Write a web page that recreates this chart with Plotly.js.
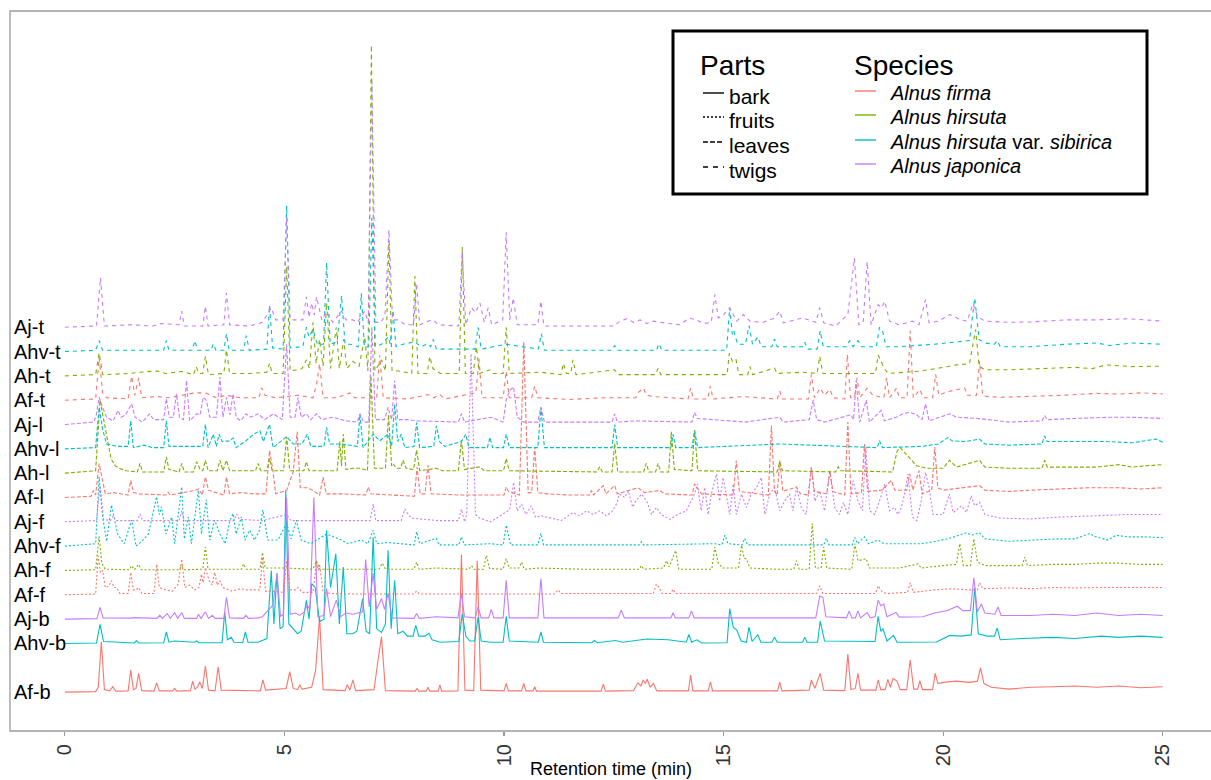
<!DOCTYPE html>
<html><head><meta charset="utf-8">
<script src="https://cdn.plot.ly/plotly-3.0.1.min.js"></script>
<style>html,body{margin:0;padding:0;background:#fff}</style>
</head><body><div id="chart" style="width:1211px;height:780px"></div>
<script>
// ---- sample order (bottom to top), stacking level of each chromatogram ----
const sampleLabels  = ['Af-b','Ahv-b','Aj-b','Af-f','Ah-f','Ahv-f','Aj-f','Af-l','Ah-l','Ahv-l','Aj-l','Af-t','Ah-t','Ahv-t','Aj-t'];
const sampleLevels  = [0,2,3,4,5,6,7,8,9,10,11,12,13,14,15];
const sampleSpecies = ['Alnus firma','Alnus hirsuta var. sibirica','Alnus japonica',
                       'Alnus firma','Alnus hirsuta','Alnus hirsuta var. sibirica','Alnus japonica',
                       'Alnus firma','Alnus hirsuta','Alnus hirsuta var. sibirica','Alnus japonica',
                       'Alnus firma','Alnus hirsuta','Alnus hirsuta var. sibirica','Alnus japonica'];
const sampleParts   = ['bark','bark','bark','fruits','fruits','fruits','fruits','leaves','leaves','leaves','leaves','twigs','twigs','twigs','twigs'];
const speciesNames  = ['Alnus firma','Alnus hirsuta','Alnus hirsuta var. sibirica','Alnus japonica'];
const partNames     = ['bark','fruits','leaves','twigs'];
const tickValues    = [0,5,10,15,20,25];

// ---- chromatograms: [retention time (min), relative intensity] ----
const AfB = [[0,0],[0.70,0.02],[0.76,0.2],[0.83,2.07],[0.90,0.1],[1.02,0.05],[1.09,0.22],[1.16,0.04],[1.44,0.05],[1.50,0.9],[1.56,0.1],[1.62,0.15],[1.68,0.77],[1.75,0.06],[2.03,0.04],[2.09,0.38],[2.15,0.05],[2.45,0.05],[2.50,0.15],[2.55,0.04],[2.86,0.06],[2.91,0.45],[2.96,0.12],[3.02,0.2],[3.07,0.42],[3.13,0.15],[3.20,1.07],[3.27,0.08],[3.42,0.05],[3.49,1.04],[3.56,0.08],[4.45,0.05],[4.51,0.5],[4.57,0.08],[5.04,0.15],[5.12,0.84],[5.20,0.15],[5.30,0.1],[5.35,0.3],[5.40,0.12],[5.62,0.2],[5.71,0.9],[5.80,3.1],[5.88,0.1],[6.38,0.06],[6.43,0.3],[6.49,0.08],[6.56,0.5],[6.62,0.06],[7.04,0.1],[7.13,1.3],[7.21,2.28],[7.30,0.06],[7.98,0.04],[8.02,0.15],[8.06,0.04],[8.23,0.04],[8.27,0.2],[8.31,0.04],[8.50,0.04],[8.54,0.3],[8.58,0.04],[8.95,0.05],[9.03,5.65],[9.11,0.08],[9.31,0.06],[9.39,5.4],[9.47,0.08],[10.00,0.05],[10.05,0.36],[10.10,0.05],[10.40,0.05],[10.45,0.36],[10.50,0.05],[10.66,0.05],[10.70,0.22],[10.74,0.04],[12.21,0.04],[12.26,0.33],[12.31,0.04],[12.95,0.06],[13.05,0.38],[13.12,0.25],[13.17,0.5],[13.22,0.35],[13.26,0.53],[13.33,0.2],[13.40,0.36],[13.48,0.05],[14.20,0.05],[14.25,0.7],[14.30,0.05],[14.65,0.05],[14.70,0.42],[14.75,0.05],[16.23,0.05],[16.28,0.41],[16.33,0.05],[16.95,0.08],[17.00,0.5],[17.08,0.15],[17.20,0.77],[17.28,0.08],[17.76,0.06],[17.83,1.56],[17.90,0.1],[18.00,0.15],[18.06,0.77],[18.12,0.08],[18.47,0.08],[18.52,0.5],[18.58,0.1],[18.68,0.1],[18.74,0.52],[18.80,0.2],[18.86,0.56],[18.95,0.45],[19.02,0.1],[19.17,0.1],[19.25,1.32],[19.33,0.12],[19.42,0.12],[19.47,0.47],[19.53,0.1],[19.76,0.1],[19.82,0.77],[19.88,0.35],[20.0,0.4],[20.3,0.45],[20.6,0.4],[20.78,0.45],[20.85,1.0],[20.93,0.35],[21.1,0.2],[21.5,0.12],[22.0,0.2],[22.5,0.22],[23.0,0.25],[23.5,0.2],[24.0,0.25],[24.5,0.18],[25.0,0.22]];
const AhvB = [[0,0],[0.72,0.02],[0.80,0.78],[0.88,0.08],[1.58,0.02],[1.63,0.12],[1.68,0.02],[2.25,0.03],[2.31,0.47],[2.37,0.05],[2.50,0.1],[2.95,0.05],[3.0,0.1],[3.05,0.03],[3.58,0.03],[3.64,1.3],[3.70,0.15],[3.79,0.25],[3.85,0.05],[4.05,0.04],[4.11,0.47],[4.17,0.05],[4.40,0.05],[4.60,0.2],[4.70,3.0],[4.76,0.8],[4.83,2.87],[4.90,0.6],[4.97,0.7],[5.03,6.3],[5.10,0.8],[5.20,0.6],[5.30,0.4],[5.38,0.5],[5.50,1.77],[5.56,1.0],[5.62,2.46],[5.70,2.3],[5.80,0.9],[5.90,1.0],[5.96,4.65],[6.05,2.3],[6.17,3.69],[6.25,0.8],[6.34,3.14],[6.42,0.4],[6.55,0.4],[6.65,0.5],[6.78,1.84],[6.86,0.5],[6.94,0.4],[7.02,4.36],[7.10,0.6],[7.21,0.45],[7.30,0.8],[7.36,3.83],[7.43,0.6],[7.51,2.6],[7.58,0.4],[7.70,0.5],[7.80,0.3],[7.93,0.3],[7.99,0.74],[8.06,0.3],[8.20,0.3],[8.29,0.42],[8.36,0.15],[8.55,0.05],[8.97,0.08],[9.05,1.22],[9.13,0.3],[9.22,0.1],[9.33,0.1],[9.41,1.08],[9.48,0.1],[9.70,0.05],[9.98,0.05],[10.05,1.11],[10.12,0.1],[10.78,0.05],[10.84,0.47],[10.90,0.05],[12.0,0.03],[12.06,0.12],[12.12,0.03],[12.54,0.12],[12.70,0.05],[13.13,0.15],[13.26,0.18],[13.74,0.15],[14.15,0.05],[14.21,0.37],[14.27,0.05],[14.40,0.15],[14.50,0.02],[15.08,0.03],[15.14,1.43],[15.22,0.67],[15.30,0.55],[15.40,0.1],[15.52,0.05],[15.58,0.67],[15.65,0.08],[15.78,0.36],[15.85,0.05],[16.10,0.05],[16.16,0.26],[16.22,0.05],[16.80,0.05],[16.85,0.26],[16.90,0.05],[17.14,0.05],[17.20,0.92],[17.30,0.1],[18.45,0.08],[18.52,1.11],[18.58,0.5],[18.63,0.6],[18.72,0.1],[18.87,0.33],[18.95,0.05],[19.85,0.06],[20.15,0.33],[20.4,0.3],[20.64,0.35],[20.72,2.3],[20.80,0.4],[21.0,0.3],[21.17,0.3],[21.23,0.64],[21.30,0.15],[21.8,0.2],[22.5,0.25],[23.0,0.2],[23.6,0.3],[24.0,0.25],[24.5,0.3],[25.0,0.25]];
const AjB = [[0,0],[0.73,0.02],[0.80,0.48],[0.87,0.05],[1.52,0.04],[1.56,0.06],[2.10,0.03],[2.16,0.16],[2.22,0.03],[2.33,0.23],[2.40,0.03],[2.50,0.26],[2.57,0.03],[2.66,0.27],[2.72,0.03],[3.0,0.03],[3.04,0.2],[3.10,0.03],[3.20,0.3],[3.27,0.03],[3.36,0.16],[3.42,0.03],[3.62,0.03],[3.68,0.9],[3.75,0.05],[4.07,0.03],[4.12,0.16],[4.18,0.03],[4.40,0.05],[4.50,0.1],[4.63,0.37],[4.74,0.58],[4.83,1.88],[4.91,0.12],[4.98,0.2],[5.05,5.0],[5.13,0.2],[5.25,0.25],[5.35,0.15],[5.45,0.3],[5.52,0.58],[5.58,0.4],[5.67,5.0],[5.76,0.1],[5.90,0.15],[5.96,1.26],[6.05,0.1],[6.18,0.78],[6.28,0.1],[6.40,0.25],[6.56,0.2],[6.78,0.3],[6.85,2.45],[6.93,0.5],[7.02,1.88],[7.10,0.4],[7.21,0.85],[7.28,0.4],[7.36,1.06],[7.45,0.05],[7.95,0.03],[8.01,0.23],[8.07,0.03],[8.46,0.1],[8.95,0.05],[9.03,1.06],[9.10,0.1],[9.34,0.05],[9.41,0.5],[9.48,0.05],[9.65,0.05],[9.71,0.4],[9.77,0.05],[9.98,0.05],[10.05,1.6],[10.12,0.05],[10.77,0.05],[10.84,1.67],[10.91,0.05],[12.60,0.05],[12.67,0.37],[12.74,0.05],[13.80,0.05],[13.85,0.26],[13.90,0.05],[14.21,0.05],[14.27,0.34],[14.33,0.05],[17.10,0.05],[17.19,0.95],[17.26,0.9],[17.33,0.1],[17.80,0.05],[17.86,0.34],[17.92,0.05],[18.00,0.05],[18.06,0.34],[18.12,0.05],[18.27,0.27],[18.34,0.05],[18.45,0.1],[18.52,0.78],[18.58,0.55],[18.65,0.62],[18.72,0.1],[18.93,0.27],[19.0,0.08],[19.54,0.1],[19.8,0.25],[20.1,0.35],[20.32,0.53],[20.45,0.35],[20.62,0.35],[20.70,1.7],[20.78,0.3],[20.87,0.62],[20.95,0.25],[21.18,0.2],[21.25,0.5],[21.32,0.15],[22.0,0.15],[22.5,0.2],[23.0,0.15],[23.5,0.25],[24.0,0.15],[24.5,0.2],[25.0,0.15]];
const AfF = [[0,0],[0.70,0.03],[0.76,1.6],[0.81,0.9],[0.86,1.0],[0.92,0.3],[1.00,0.35],[1.06,0.58],[1.12,0.3],[1.18,0.3],[1.25,0.05],[1.44,0.05],[1.50,0.92],[1.56,0.2],[1.62,0.2],[1.68,0.3],[1.75,0.05],[2.03,0.05],[2.09,1.26],[2.15,0.3],[2.30,0.2],[2.45,0.15],[2.58,0.44],[2.66,1.47],[2.73,0.3],[2.85,0.4],[2.95,0.2],[3.05,0.3],[3.11,0.85],[3.15,0.5],[3.20,1.12],[3.28,0.6],[3.35,0.4],[3.41,0.92],[3.47,0.4],[3.53,0.58],[3.60,0.3],[3.80,0.15],[4.0,0.25],[4.15,0.2],[4.30,0.2],[4.44,0.2],[4.50,1.54],[4.57,0.15],[4.70,0.15],[4.98,0.1],[5.05,1.4],[5.12,0.2],[5.25,0.2],[5.31,0.3],[5.40,0.1],[5.65,0.1],[5.73,1.4],[5.77,1.0],[5.80,1.26],[5.88,0.1],[6.1,0.05],[6.6,0.03],[7.5,0.03],[7.95,0.03],[8.01,0.16],[8.07,0.03],[11.15,0.03],[11.23,0.2],[11.30,0.05],[13.40,0.05],[13.47,0.44],[13.53,0.3],[13.60,0.05],[13.80,0.05],[13.85,0.23],[13.90,0.05],[17.12,0.05],[17.19,0.37],[17.26,0.05],[18.46,0.05],[18.52,0.37],[18.60,0.15],[18.70,0.05],[19.19,0.1],[19.25,0.5],[19.32,0.1],[19.8,0.2],[20.2,0.25],[20.6,0.2],[20.78,0.2],[20.83,0.5],[20.90,0.25],[21.5,0.28],[22.0,0.25],[22.5,0.3],[23.0,0.28],[23.5,0.3],[24.0,0.3],[24.5,0.28],[25.0,0.3]];
const AhF = [[0,0],[0.70,0.03],[0.78,1.4],[0.84,0.3],[0.92,0.05],[1.47,0.03],[1.52,0.2],[1.58,0.03],[1.68,0.25],[1.74,0.03],[2.60,0.03],[2.66,0.2],[2.72,0.03],[3.14,0.05],[3.20,0.96],[3.26,0.05],[4.02,0.05],[4.07,0.27],[4.13,0.05],[4.44,0.05],[4.50,0.74],[4.56,0.1],[5.05,0.1],[5.65,0.05],[5.73,0.4],[5.80,0.05],[7.15,0.05],[7.23,0.3],[7.30,0.05],[7.95,0.05],[8.01,0.34],[8.07,0.05],[8.45,0.1],[9.20,0.05],[9.26,0.2],[9.32,0.05],[9.53,0.05],[9.60,0.62],[9.67,0.08],[9.98,0.05],[10.05,0.48],[10.12,0.1],[10.34,0.1],[10.40,0.34],[10.46,0.05],[10.81,0.1],[11.8,0.05],[12.5,0.05],[13.08,0.05],[13.13,0.2],[13.18,0.05],[13.63,0.1],[13.70,0.4],[13.76,0.15],[13.91,0.82],[13.98,0.05],[14.73,0.05],[14.80,0.96],[14.88,0.3],[14.98,0.1],[15.34,0.1],[15.41,1.03],[15.47,0.5],[15.52,0.48],[15.60,0.1],[16.2,0.05],[16.60,0.05],[16.66,0.4],[16.72,0.05],[16.95,0.05],[17.02,1.93],[17.09,0.1],[17.22,0.1],[17.28,0.96],[17.35,0.1],[17.92,0.05],[17.99,1.1],[18.06,0.4],[18.25,0.48],[18.32,0.1],[19.0,0.1],[19.43,0.27],[19.50,0.1],[20.0,0.2],[20.30,0.25],[20.38,1.1],[20.46,0.2],[20.62,0.2],[20.70,1.3],[20.78,0.35],[20.95,0.2],[21.5,0.2],[21.80,0.2],[21.86,0.55],[21.92,0.2],[22.5,0.25],[23.0,0.25],[23.5,0.3],[24.0,0.3],[24.5,0.25],[25.0,0.25]];
const AhvF = [[0,0],[0.70,0.1],[0.78,2.85],[0.86,1.2],[0.95,0.2],[1.06,1.69],[1.12,1.2],[1.20,0.5],[1.35,0.1],[1.52,1.07],[1.62,0.0],[1.75,0.2],[1.90,0.5],[2.09,2.03],[2.15,1.3],[2.20,1.62],[2.30,0.5],[2.43,1.2],[2.50,0.1],[2.56,1.07],[2.66,2.44],[2.72,0.3],[2.81,1.2],[2.88,0.1],[2.96,1.3],[3.04,2.3],[3.11,0.5],[3.22,1.9],[3.30,0.25],[3.41,1.07],[3.53,0.5],[3.65,0.1],[3.76,1.07],[3.83,1.34],[3.90,0.5],[4.02,1.2],[4.10,0.25],[4.21,0.66],[4.32,0.25],[4.42,0.6],[4.51,1.48],[4.62,0.25],[4.85,0.25],[5.05,0.93],[5.15,0.3],[5.27,1.07],[5.38,0.25],[5.60,0.1],[5.96,0.5],[6.30,0.25],[6.45,0.1],[6.75,0.25],[6.90,0.1],[7.02,0.66],[7.10,0.1],[7.36,0.15],[7.95,0.05],[8.01,0.59],[8.08,0.1],[8.46,0.32],[8.52,0.05],[8.97,0.05],[9.03,0.38],[9.10,0.05],[9.68,0.1],[9.98,0.05],[10.05,0.86],[10.10,0.4],[10.15,0.05],[10.77,0.05],[10.84,0.52],[10.90,0.05],[12.0,0.05],[13.08,0.05],[13.13,0.18],[13.18,0.05],[14.80,0.1],[14.96,0.05],[15.03,0.45],[15.10,0.1],[15.42,0.05],[15.48,0.32],[15.55,0.05],[17.28,0.05],[17.34,0.32],[17.40,0.05],[17.93,0.05],[17.99,0.36],[18.05,0.1],[18.21,0.38],[18.30,0.1],[18.52,0.25],[18.65,0.1],[19.5,0.1],[19.85,0.2],[20.2,0.35],[20.53,0.55],[20.65,0.45],[20.83,0.55],[20.95,0.3],[21.5,0.2],[22.0,0.25],[22.6,0.3],[23.0,0.3],[23.34,0.52],[23.45,0.4],[23.75,0.25],[23.94,0.45],[24.2,0.38],[24.6,0.38],[25.0,0.35]];
const AjF = [[0,0],[0.72,0.05],[0.80,1.5],[0.88,0.1],[1.04,0.05],[1.10,0.25],[1.16,0.05],[1.65,0.05],[1.71,0.32],[1.77,0.05],[2.60,0.05],[2.66,0.45],[2.72,0.05],[3.85,0.05],[3.91,0.32],[3.97,0.1],[4.5,0.05],[5.05,0.3],[5.15,0.05],[6.5,0.05],[6.95,0.05],[7.02,0.73],[7.08,0.05],[7.66,0.05],[7.74,0.52],[7.82,0.3],[7.90,0.15],[8.5,0.05],[8.96,0.05],[9.03,0.52],[9.10,0.0],[9.15,0.3],[9.25,6.9],[9.35,0.3],[9.45,0.15],[9.70,0.0],[10.05,0.38],[10.13,0.5],[10.22,1.62],[10.30,0.45],[10.40,0.73],[10.50,0.3],[10.62,0.66],[10.72,0.18],[10.85,0.25],[11.3,0.05],[11.57,0.38],[11.72,0.25],[11.88,0.45],[12.03,0.3],[12.18,0.45],[12.33,0.25],[12.45,0.4],[12.56,0.73],[12.63,1.14],[12.75,1.0],[12.83,1.28],[12.93,0.6],[13.0,0.85],[13.13,1.14],[13.25,0.85],[13.36,0.3],[13.47,0.59],[13.58,0.3],[13.78,0.1],[13.95,0.3],[14.15,0.45],[14.34,1.14],[14.40,1.55],[14.49,0.45],[14.57,1.41],[14.65,0.3],[14.72,1.14],[14.84,1.96],[14.91,0.85],[14.99,1.82],[15.06,1.14],[15.14,0.3],[15.22,1.55],[15.29,0.3],[15.41,1.14],[15.52,0.59],[15.63,1.14],[15.75,1.41],[15.86,1.82],[15.94,0.3],[16.05,1.14],[16.16,1.41],[16.28,0.45],[16.39,0.85],[16.50,1.14],[16.58,0.45],[16.66,1.41],[16.77,0.59],[16.88,0.3],[17.00,2.24],[17.08,0.85],[17.19,1.27],[17.30,0.45],[17.42,2.1],[17.53,0.59],[17.64,0.3],[17.73,0.79],[17.83,0.3],[17.95,1.69],[18.06,0.85],[18.16,0.45],[18.24,3.06],[18.33,0.45],[18.44,0.3],[18.55,0.85],[18.67,1.55],[18.78,0.45],[18.89,0.59],[18.97,0.3],[19.05,0.59],[19.12,1.14],[19.20,1.96],[19.30,0.2],[19.40,0.05],[19.50,0.85],[19.60,2.03],[19.68,1.41],[19.77,0.3],[20.0,0.3],[20.14,1.14],[20.23,0.38],[20.42,0.66],[20.53,0.38],[20.64,1.07],[20.72,0.66],[20.83,0.8],[20.95,0.3],[21.3,0.15],[22.0,0.12],[22.7,0.2],[23.5,0.25],[24.2,0.3],[25.0,0.3]];
const AfL = [[0,0],[0.60,0.05],[0.65,0.29],[0.70,0.1],[0.78,1.39],[0.84,0.9],[0.92,0.15],[1.10,0.2],[1.44,0.1],[1.50,0.7],[1.56,0.2],[1.70,0.15],[2.30,0.1],[2.35,0.22],[2.40,0.1],[2.96,0.29],[3.05,0.35],[3.13,0.1],[3.20,0.84],[3.27,0.3],[3.45,0.2],[3.62,0.1],[3.68,0.84],[3.75,0.15],[4.0,0.2],[4.3,0.15],[4.58,0.15],[4.66,1.93],[4.73,1.2],[4.80,0.15],[5.05,0.3],[5.20,1.06],[5.29,2.7],[5.36,0.4],[5.50,0.4],[5.65,0.3],[5.80,0.1],[5.88,0.84],[5.95,0.15],[6.3,0.15],[6.85,0.1],[6.91,0.43],[6.97,0.15],[7.96,0.05],[8.02,1.25],[8.09,0.15],[8.20,0.15],[8.27,1.32],[8.34,0.15],[9.0,0.1],[10.0,0.1],[10.05,0.43],[10.10,0.25],[10.35,0.1],[10.45,6.4],[10.55,0.2],[10.63,0.2],[10.70,2.07],[10.77,0.2],[11.0,0.15],[11.5,0.1],[11.95,0.1],[11.99,0.29],[12.04,0.1],[12.26,0.49],[12.32,0.15],[12.52,0.49],[12.58,0.15],[13.05,0.4],[13.20,0.2],[13.55,0.29],[13.65,0.15],[14.28,0.1],[14.34,0.56],[14.40,0.4],[14.50,0.15],[15.22,0.1],[15.29,1.52],[15.36,0.25],[15.90,0.15],[16.02,0.1],[16.09,2.96],[16.16,0.25],[16.22,0.1],[16.28,1.52],[16.35,0.25],[16.66,0.43],[16.75,0.15],[16.93,0.1],[17.00,1.25],[17.07,0.25],[17.35,0.15],[17.42,1.1],[17.49,0.25],[17.76,0.1],[17.83,3.1],[17.90,0.15],[18.14,0.2],[18.21,2.2],[18.28,0.25],[18.60,0.3],[18.82,0.7],[18.90,0.3],[19.17,0.3],[19.24,0.97],[19.31,0.3],[19.45,1.1],[19.52,0.15],[19.74,0.3],[19.81,2.07],[19.88,0.4],[20.0,0.3],[20.5,0.4],[20.83,0.49],[20.95,0.3],[21.5,0.25],[22.0,0.3],[22.7,0.35],[23.3,0.4],[24.0,0.4],[24.5,0.35],[25.0,0.4]];
const AhL = [[0,0],[0.70,0.1],[0.80,3.0],[0.88,2.2],[0.95,1.5],[1.05,0.6],[1.15,0.3],[1.25,0.19],[1.40,0.1],[1.65,0.05],[1.71,0.4],[1.77,0.05],[2.25,0.05],[2.31,0.67],[2.37,0.15],[2.60,0.05],[2.66,0.4],[2.72,0.05],[2.93,0.05],[3.0,0.47],[3.08,0.15],[3.14,0.1],[3.20,0.53],[3.26,0.1],[3.47,0.1],[3.53,0.53],[3.60,0.1],[3.68,0.53],[3.75,0.1],[4.34,0.1],[4.40,0.4],[4.46,0.1],[4.60,0.1],[4.66,0.6],[4.72,0.1],[4.98,0.1],[5.05,1.5],[5.12,0.1],[5.44,0.1],[5.50,0.47],[5.56,0.1],[6.20,0.1],[6.26,1.3],[6.30,0.3],[6.34,1.6],[6.40,0.15],[6.55,0.2],[6.75,0.2],[6.89,0.1],[6.97,4.0],[7.05,0.2],[7.30,0.2],[7.37,2.4],[7.44,0.3],[7.47,0.4],[7.55,0.2],[7.64,0.2],[7.70,0.53],[7.77,0.2],[7.94,0.15],[8.01,0.95],[8.08,0.1],[8.45,0.2],[8.60,0.1],[8.96,0.1],[9.03,1.36],[9.10,0.15],[9.45,0.26],[9.55,0.1],[9.99,0.1],[10.05,0.6],[10.12,0.1],[12.12,0.05],[12.18,0.26],[12.24,0.05],[12.46,0.05],[12.52,1.22],[12.59,0.05],[13.18,0.05],[13.24,0.4],[13.30,0.05],[13.45,0.05],[13.51,0.4],[13.57,0.05],[13.75,0.05],[13.81,1.7],[13.88,0.15],[14.28,0.1],[14.34,1.77],[14.41,0.1],[16.22,0.05],[16.28,0.47],[16.34,0.1],[17.55,0.05],[17.61,0.26],[17.67,0.1],[18.85,0.05],[18.95,0.9],[19.02,1.05],[19.20,0.7],[19.40,0.3],[19.62,0.2],[20.0,0.2],[20.15,0.53],[20.30,0.25],[20.83,0.53],[20.95,0.25],[21.5,0.2],[22.25,0.2],[22.31,0.53],[22.37,0.25],[23.0,0.25],[23.5,0.25],[24.0,0.35],[24.3,0.25],[24.6,0.3],[25.0,0.35]];
const AhvL = [[0,0],[0.70,0.05],[0.78,1.7],[0.86,0.8],[0.95,0.2],[1.10,0.15],[1.20,0.1],[1.44,0.1],[1.50,1.15],[1.56,0.05],[1.80,0.15],[2.0,0.05],[2.25,0.05],[2.31,1.15],[2.37,0.1],[2.60,0.1],[3.14,0.1],[3.20,1.0],[3.26,0.05],[3.38,0.6],[3.45,0.1],[3.51,0.6],[3.58,0.3],[3.76,0.33],[3.83,0.45],[3.90,0.05],[4.10,0.3],[4.30,0.6],[4.44,0.74],[4.52,0.3],[4.66,1.0],[4.74,0.05],[5.05,0.5],[5.20,0.2],[5.40,0.2],[5.52,0.6],[5.60,0.1],[5.90,0.1],[5.96,0.88],[6.03,0.2],[6.30,0.2],[6.66,0.1],[6.72,1.43],[6.79,0.05],[7.02,0.6],[7.17,0.33],[7.36,0.6],[7.44,0.1],[7.51,1.84],[7.58,0.3],[7.66,0.6],[7.74,0.05],[7.95,0.1],[8.01,1.08],[8.08,0.05],[8.40,0.1],[8.46,0.95],[8.53,0.3],[8.65,0.1],[9.03,0.3],[9.13,0.6],[9.20,0.05],[9.62,0.05],[9.68,0.47],[9.74,0.05],[9.99,0.05],[10.05,0.6],[10.12,0.05],[10.77,0.05],[10.84,1.7],[10.92,0.05],[12.46,0.05],[12.52,1.0],[12.59,0.05],[13.80,0.05],[13.85,0.6],[13.91,0.05],[14.28,0.05],[14.34,0.74],[14.41,0.05],[16.28,0.2],[18.50,0.05],[18.55,0.33],[18.62,0.05],[19.5,0.1],[19.9,0.2],[20.11,0.47],[20.20,0.33],[20.5,0.3],[20.83,0.4],[20.95,0.2],[21.5,0.15],[22.25,0.2],[22.31,0.53],[22.37,0.3],[23.0,0.3],[23.7,0.3],[24.3,0.25],[24.85,0.4],[25.0,0.27]];
const AjL = [[0,0],[0.66,0.1],[0.72,0.44],[0.78,1.12],[0.86,0.7],[0.95,0.3],[1.10,0.15],[1.21,0.58],[1.28,0.3],[1.38,0.4],[1.52,0.85],[1.60,0.3],[1.76,0.1],[1.93,0.44],[2.02,0.2],[2.25,0.2],[2.31,1.06],[2.38,0.3],[2.47,0.3],[2.54,1.26],[2.61,0.3],[2.70,0.2],[2.77,1.81],[2.84,0.15],[3.0,0.44],[3.08,0.4],[3.15,1.12],[3.22,1.0],[3.30,0.3],[3.45,0.3],[3.53,1.95],[3.60,0.3],[3.68,1.12],[3.76,0.4],[3.83,1.26],[3.90,0.3],[4.0,0.15],[4.13,0.44],[4.22,0.3],[4.40,0.44],[4.55,0.2],[4.75,0.44],[4.95,0.2],[5.05,3.3],[5.13,0.3],[5.24,0.3],[5.31,1.12],[5.38,0.3],[5.50,0.44],[5.60,0.2],[5.73,0.44],[5.85,0.2],[6.10,0.3],[6.40,0.15],[6.66,0.1],[6.72,0.44],[6.80,0.1],[6.92,0.1],[6.99,4.0],[7.07,0.2],[7.28,0.2],[7.36,0.71],[7.44,0.2],[7.51,1.81],[7.58,0.2],[7.80,0.2],[8.02,0.15],[8.96,0.1],[9.03,0.44],[9.10,0.1],[9.71,0.3],[9.98,0.1],[10.05,1.0],[10.13,1.4],[10.22,1.54],[10.30,0.3],[10.45,0.1],[10.77,0.1],[10.84,0.71],[10.92,0.1],[12.46,0.1],[12.52,0.44],[12.58,0.1],[13.0,0.15],[14.28,0.1],[14.34,0.5],[14.40,0.25],[14.80,0.2],[15.5,0.1],[16.28,0.3],[16.36,0.1],[16.95,0.2],[17.04,1.0],[17.12,0.2],[17.3,0.1],[17.90,0.4],[17.96,0.2],[18.02,1.81],[18.10,0.1],[18.25,1.0],[18.32,0.1],[18.59,0.58],[18.66,0.15],[18.93,0.3],[19.10,0.45],[19.24,0.5],[19.40,0.4],[19.52,0.2],[19.60,0.85],[19.68,0.15],[20.15,0.44],[20.30,0.3],[20.8,0.25],[21.5,0.1],[22.25,0.15],[22.31,0.37],[22.37,0.2],[23.0,0.25],[23.8,0.3],[24.3,0.3],[25.0,0.25]];
const AfT = [[0,0],[0.70,0.05],[0.78,1.74],[0.86,0.3],[0.95,0.1],[1.44,0.05],[1.52,0.99],[1.59,0.2],[1.68,0.92],[1.75,0.1],[2.10,0.15],[2.35,0.1],[2.66,0.2],[2.96,0.3],[3.20,0.3],[3.45,0.1],[3.68,0.2],[4.0,0.1],[4.42,0.1],[4.48,0.51],[4.56,0.2],[4.80,0.1],[5.05,0.15],[5.31,0.2],[5.65,0.1],[5.73,0.64],[5.80,1.5],[5.88,0.1],[6.20,0.1],[6.49,0.3],[6.60,0.1],[7.10,0.1],[7.17,1.85],[7.25,0.1],[7.80,0.05],[8.27,0.23],[8.40,0.1],[8.54,0.23],[8.65,0.05],[9.36,0.3],[9.43,1.7],[9.50,0.1],[9.98,0.1],[10.05,1.19],[10.12,0.1],[10.63,0.1],[10.70,0.58],[10.77,0.1],[11.5,0.03],[12.3,0.1],[13.0,0.1],[13.05,0.3],[13.17,0.5],[13.25,0.2],[13.40,0.15],[14.19,0.05],[14.25,0.5],[14.31,0.05],[14.64,0.05],[14.70,0.58],[14.76,0.05],[15.44,0.15],[16.22,0.05],[16.28,0.37],[16.34,0.05],[16.93,0.05],[17.00,1.06],[17.07,0.1],[17.20,0.5],[17.30,0.2],[17.42,0.44],[17.50,0.1],[17.76,0.05],[17.82,1.88],[17.89,0.1],[17.98,0.1],[18.04,0.92],[18.10,0.1],[18.27,0.5],[18.40,0.2],[18.65,0.1],[18.71,0.92],[18.78,0.1],[18.94,0.5],[19.00,0.1],[19.18,0.1],[19.25,2.85],[19.32,0.1],[19.47,0.44],[19.55,0.1],[19.76,0.1],[19.83,1.06],[19.90,0.2],[20.1,0.35],[20.49,0.5],[20.55,0.2],[20.76,0.2],[20.83,1.6],[20.90,0.2],[21.0,0.15],[21.3,0.12],[22.0,0.15],[22.7,0.2],[23.5,0.28],[24.0,0.25],[24.5,0.3],[25.0,0.26]];
const AhT = [[0,0],[0.70,0.05],[0.78,0.95],[0.86,0.05],[1.5,0.1],[1.70,0.15],[2.10,0.2],[2.30,0.1],[2.66,0.18],[2.93,0.05],[2.99,0.38],[3.05,0.1],[3.14,0.1],[3.20,0.8],[3.27,0.05],[3.53,0.1],[3.62,0.1],[3.68,1.07],[3.75,0.1],[4.20,0.1],[4.60,0.15],[4.66,0.52],[4.72,0.1],[4.97,0.1],[5.05,4.5],[5.13,0.2],[5.40,0.3],[5.50,0.66],[5.57,0.3],[5.65,2.2],[5.72,0.5],[5.80,1.5],[5.88,0.4],[5.96,3.0],[6.05,0.3],[6.18,2.0],[6.25,0.3],[6.35,1.5],[6.42,0.3],[6.56,0.6],[6.70,0.4],[6.83,1.6],[6.90,0.2],[6.98,13.6],[7.06,0.2],[7.21,0.66],[7.30,0.2],[7.38,5.6],[7.45,0.2],[7.60,0.2],[7.90,0.1],[7.97,4.1],[8.04,0.1],[8.25,0.1],[8.31,0.8],[8.38,0.3],[8.55,0.1],[8.98,0.1],[9.05,5.3],[9.12,0.1],[9.30,0.1],[9.37,1.2],[9.44,0.1],[9.68,0.25],[9.75,0.1],[9.98,0.1],[10.05,2.0],[10.12,0.1],[10.84,0.15],[11.30,0.05],[11.35,0.52],[11.42,0.1],[11.52,0.1],[11.57,0.66],[11.64,0.05],[12.52,0.25],[12.60,0.05],[13.45,0.05],[13.51,0.32],[13.57,0.05],[15.08,0.05],[15.13,0.93],[15.20,0.6],[15.28,0.7],[15.35,0.05],[15.55,0.05],[15.60,0.38],[15.66,0.05],[16.16,0.32],[16.22,0.1],[16.8,0.15],[17.13,0.1],[17.19,0.8],[17.26,0.1],[18.46,0.1],[18.52,0.86],[18.58,0.6],[18.66,0.3],[18.75,0.1],[19.5,0.2],[20.0,0.35],[20.3,0.45],[20.60,0.5],[20.74,1.9],[20.82,0.4],[20.95,0.25],[21.5,0.25],[22.3,0.3],[23.0,0.35],[23.4,0.3],[23.7,0.45],[24.3,0.38],[25.0,0.4]];
const AhvT = [[0,0],[0.70,0.05],[0.78,0.45],[0.86,0.05],[1.6,0.05],[2.25,0.05],[2.31,0.45],[2.37,0.05],[2.90,0.05],[2.96,0.45],[3.02,0.05],[3.33,0.05],[3.38,0.32],[3.44,0.05],[3.62,0.05],[3.68,0.73],[3.74,0.05],[4.07,0.05],[4.13,0.66],[4.20,0.05],[4.60,0.1],[4.66,1.9],[4.73,0.15],[4.97,0.1],[5.05,6.0],[5.13,0.15],[5.42,0.2],[5.50,1.0],[5.56,0.6],[5.65,0.9],[5.75,0.3],[5.89,0.3],[5.96,3.66],[6.04,0.3],[6.20,0.4],[6.30,2.3],[6.38,0.3],[6.50,0.3],[6.68,0.2],[6.75,2.4],[6.82,0.2],[6.92,0.2],[6.99,5.5],[7.07,0.2],[7.21,0.3],[7.36,0.6],[7.41,0.3],[7.47,1.7],[7.54,0.2],[7.70,0.3],[7.97,0.4],[8.10,0.2],[8.27,0.32],[8.33,0.2],[8.39,0.5],[8.46,0.1],[9.34,0.1],[9.41,1.0],[9.48,0.1],[10.05,0.3],[10.78,0.1],[10.85,0.73],[10.92,0.05],[12.46,0.05],[12.52,0.25],[12.58,0.05],[13.47,0.05],[13.53,0.32],[13.59,0.05],[15.07,0.05],[15.14,1.8],[15.20,0.7],[15.23,0.86],[15.32,0.3],[15.50,0.3],[15.58,1.07],[15.66,0.3],[15.78,0.6],[15.86,0.2],[16.10,0.2],[16.16,0.52],[16.22,0.2],[16.80,0.2],[16.85,0.38],[16.91,0.1],[17.13,0.1],[17.20,0.86],[17.27,0.2],[17.80,0.2],[17.87,0.45],[17.95,0.2],[18.06,0.45],[18.14,0.2],[18.48,0.2],[18.55,1.0],[18.62,0.85],[18.70,0.2],[19.0,0.2],[19.8,0.3],[20.3,0.4],[20.60,0.45],[20.72,2.2],[20.82,0.5],[20.95,0.35],[21.17,0.3],[21.23,0.45],[21.30,0.2],[22.0,0.2],[22.8,0.3],[23.5,0.35],[23.8,0.25],[24.3,0.35],[25.0,0.3]];
const AjT = [[0,0],[0.72,0.05],[0.81,2.03],[0.90,0.05],[1.5,0.1],[2.0,0.05],[2.20,0.15],[2.60,0.1],[2.66,0.66],[2.72,0.05],[3.14,0.05],[3.20,0.86],[3.26,0.05],[3.62,0.1],[3.68,1.41],[3.75,0.1],[4.2,0.05],[4.50,0.2],[4.70,0.8],[4.80,0.3],[4.97,0.3],[5.05,4.5],[5.13,0.3],[5.30,0.3],[5.42,0.3],[5.50,1.25],[5.56,0.4],[5.62,1.0],[5.68,0.5],[5.73,1.25],[5.85,0.3],[5.96,0.66],[6.10,0.2],[6.30,0.66],[6.40,0.3],[6.56,0.3],[6.66,0.2],[6.83,0.66],[6.91,0.2],[6.99,10.1],[7.08,0.2],[7.20,0.2],[7.29,0.5],[7.38,4.0],[7.46,0.3],[7.60,0.3],[7.75,0.1],[7.94,0.1],[8.01,1.8],[8.08,0.1],[8.27,0.25],[8.39,0.3],[8.50,0.1],[8.97,0.05],[9.05,3.1],[9.13,0.1],[9.26,0.8],[9.35,0.6],[9.45,1.0],[9.55,0.2],[9.64,0.8],[9.72,0.1],[9.97,0.3],[10.05,3.9],[10.13,0.3],[10.21,1.2],[10.30,0.1],[10.77,0.1],[10.84,1.07],[10.91,0.05],[11.5,0.05],[12.5,0.05],[12.64,0.25],[12.80,0.35],[12.95,0.2],[13.10,0.3],[13.25,0.15],[13.40,0.25],[13.75,0.15],[14.0,0.1],[14.23,0.38],[14.38,0.3],[14.55,0.15],[14.72,0.2],[14.80,1.34],[14.88,0.38],[15.0,0.52],[15.14,0.8],[15.22,0.52],[15.30,0.25],[15.45,0.52],[15.60,0.25],[15.90,0.2],[16.16,0.38],[16.28,0.66],[16.36,0.18],[16.80,0.38],[17.10,0.2],[17.19,0.8],[17.28,0.18],[17.55,0.05],[17.83,0.52],[17.98,2.84],[18.08,0.1],[18.18,0.2],[18.27,2.7],[18.36,0.1],[18.52,0.93],[18.60,0.8],[18.67,1.07],[18.78,0.25],[19.0,0.1],[19.30,0.25],[19.45,0.1],[19.60,1.14],[19.68,0.18],[19.9,0.25],[20.15,0.52],[20.40,0.3],[20.55,0.25],[20.68,0.97],[20.78,0.45],[20.95,0.25],[21.5,0.2],[22.0,0.22],[22.8,0.3],[23.5,0.3],[24.2,0.35],[25.0,0.25]];

const chromatograms = [AfB, AhvB, AjB, AfF, AhF, AhvF, AjF, AfL, AhL, AhvL, AjL, AfT, AhT, AhvT, AjT];

// ---- styles ----
const speciesColor = {'Alnus firma':'#F8766D','Alnus hirsuta':'#7CAE00','Alnus hirsuta var. sibirica':'#00BFC4','Alnus japonica':'#C77CFF'};
const partDash = {bark:'solid', fruits:'2px,2px', leaves:'4px,2px', twigs:'4px,4px'};
const legendDash = {bark:'solid', fruits:'2px,2px', leaves:'5px,2px', twigs:'5px,5px'};
const FONT = 'Liberation Sans, Arial, Helvetica, sans-serif';

const traces = chromatograms.map((pts, i) => ({
  type: 'scatter', mode: 'lines',
  x: pts.map(p => p[0]),
  y: pts.map(p => p[1] + sampleLevels[i]),
  line: {color: speciesColor[sampleSpecies[i]], width: 1.1, dash: partDash[sampleParts[i]]},
  name: sampleLabels[i], hoverinfo: 'skip', showlegend: false
}));

// pixel -> paper helpers for the legend box (plot area: x 10..1211, y 11..731)
const xp = px => (px - 10) / 1201;
const yp = py => (731 - py) / 720;

const annotations = sampleLabels.map((lab, i) => ({
  text: lab, xref: 'paper', yref: 'y', x: xp(12), y: sampleLevels[i],
  xanchor: 'left', yanchor: 'middle', showarrow: false,
  font: {family: FONT, size: 20, color: '#000'}
}));

const shapes = [
  {type:'rect', xref:'paper', yref:'paper', x0:0, x1:1.02, y0:0, y1:1, line:{color:'#9a9a9a', width:1.3}, layer:'below'},
  {type:'rect', xref:'paper', yref:'paper', x0:xp(673), x1:xp(1147), y0:yp(194), y1:yp(31), line:{color:'#000', width:3}, fillcolor:'#fff'}
];

annotations.push({text:'Parts', xref:'paper', yref:'paper', x:xp(698), y:yp(66), xanchor:'left', yanchor:'middle', showarrow:false, font:{family:FONT, size:28, color:'#000'}});
annotations.push({text:'Species', xref:'paper', yref:'paper', x:xp(852), y:yp(66), xanchor:'left', yanchor:'middle', showarrow:false, font:{family:FONT, size:28, color:'#000'}});

const partRowsY = [96, 120, 145, 170];
partNames.forEach((p, k) => {
  const y = partRowsY[k];
  shapes.push({type:'line', xref:'paper', yref:'paper', x0:xp(703), x1:xp(724), y0:yp(y-3), y1:yp(y-3), line:{color:'#000', width:1.4, dash:legendDash[p]}});
  annotations.push({text:p, xref:'paper', yref:'paper', x:xp(727), y:yp(y), xanchor:'left', yanchor:'middle', showarrow:false, font:{family:FONT, size:21, color:'#000'}});
});
const speciesRowsY = [93, 117, 142, 166];
const speciesHtml = ['<i>Alnus firma</i>','<i>Alnus hirsuta</i>','<i>Alnus hirsuta</i> var. <i>sibirica</i>','<i>Alnus japonica</i>'];
speciesNames.forEach((s, k) => {
  const y = speciesRowsY[k];
  shapes.push({type:'line', xref:'paper', yref:'paper', x0:xp(855), x1:xp(876), y0:yp(y-2), y1:yp(y-2), line:{color:speciesColor[s], width:1.4}});
  annotations.push({text:speciesHtml[k], xref:'paper', yref:'paper', x:xp(888), y:yp(y), xanchor:'left', yanchor:'middle', showarrow:false, font:{family:FONT, size:20, color:'#000'}});
});

annotations.push({text:'Retention time (min)', xref:'paper', yref:'paper', x:xp(611), y:yp(769), xanchor:'center', yanchor:'middle', showarrow:false, font:{family:FONT, size:18, color:'#000'}});

const layout = {
  width: 1211, height: 780,
  margin: {l:10, r:0, t:11, b:49, pad:0},
  paper_bgcolor:'#fff', plot_bgcolor:'#fff',
  showlegend: false,
  xaxis: {range:[-1.25, 26.1], tickvals: tickValues, ticktext: tickValues.map(String), tickangle: -90,
          ticks:'outside', ticklen:4, tickwidth:1.2, tickcolor:'#9a9a9a',
          showgrid:false, zeroline:false, showline:false,
          tickfont:{family:FONT, size:20, color:'#333'}},
  yaxis: {range:[-1.6, 28.0], visible:false, showgrid:false, zeroline:false},
  shapes: shapes, annotations: annotations
};

Plotly.newPlot('chart', traces, layout, {staticPlot:true, displayModeBar:false});
</script></body></html>
